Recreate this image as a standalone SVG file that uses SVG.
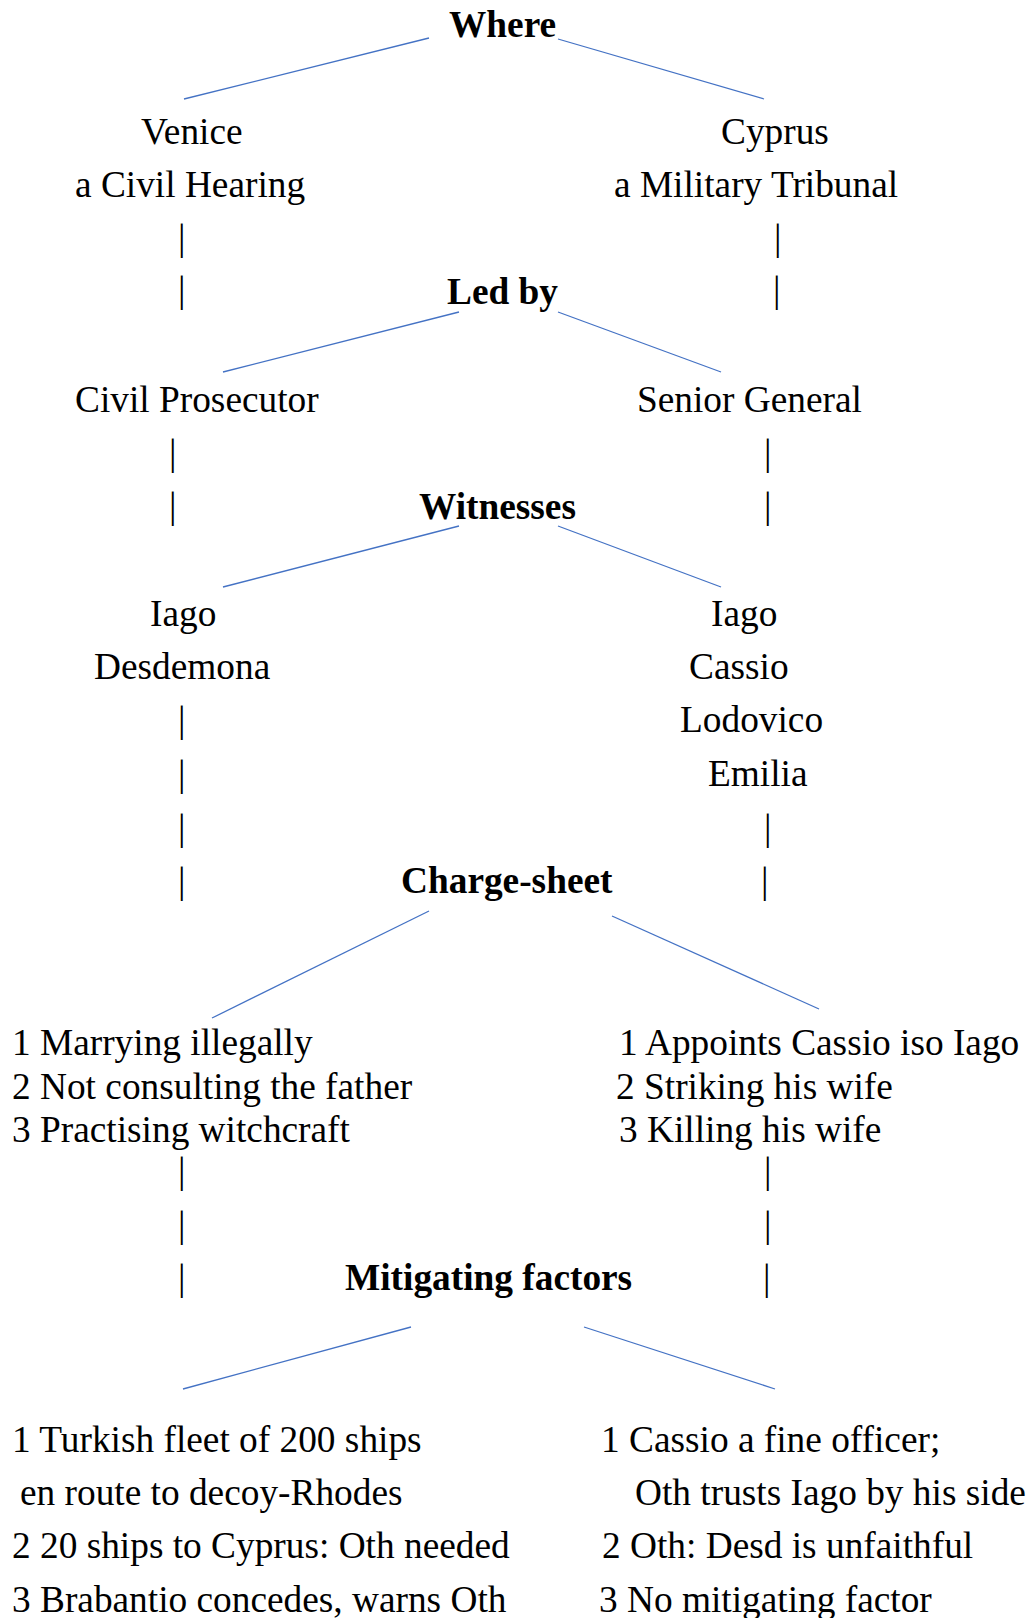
<svg xmlns="http://www.w3.org/2000/svg" width="1031" height="1618" viewBox="0 0 1031 1618">
<style>
text{font-family:"Liberation Serif","Times New Roman",serif;font-size:37.33px;fill:#000}
.b{font-weight:bold}
.c line{stroke:#4472C4;stroke-width:1.3}
</style>
<rect width="1031" height="1618" fill="#fff"/>
<g class="c" id="connectors">
<line x1="429" y1="38" x2="184" y2="99"/>
<line x1="558" y1="39" x2="764" y2="99"/>
<line x1="459" y1="312" x2="223" y2="372"/>
<line x1="558" y1="312" x2="721" y2="372"/>
<line x1="459" y1="526" x2="223" y2="587"/>
<line x1="558" y1="526" x2="721" y2="587"/>
<line x1="429" y1="911" x2="212" y2="1018"/>
<line x1="612" y1="916" x2="819" y2="1009"/>
<line x1="411" y1="1327" x2="183" y2="1389"/>
<line x1="584" y1="1327" x2="775" y2="1389"/>
<g id="bars">
<text x="178" y="250">|</text><text x="178" y="302">|</text>
<text x="774" y="250">|</text><text x="773" y="302">|</text>
<text x="169" y="465">|</text><text x="169" y="518">|</text>
<text x="764" y="465">|</text><text x="764" y="518">|</text>
<text x="178" y="732">|</text><text x="178" y="786">|</text><text x="178" y="840">|</text><text x="178" y="893">|</text>
<text x="764" y="840">|</text><text x="761" y="893">|</text>
<text x="178" y="1183">|</text><text x="178" y="1237">|</text><text x="178" y="1290">|</text>
<text x="764" y="1183">|</text><text x="764" y="1237">|</text><text x="763" y="1290">|</text>
</g>
</g>
<g id="where"><text class="b" x="449" y="37">Where</text></g>
<g id="venice"><text x="141" y="144">Venice</text><text x="75" y="197">a Civil Hearing</text></g>
<g id="cyprus"><text x="721" y="144">Cyprus</text><text x="614" y="197">a Military Tribunal</text></g>
<g id="ledby"><text class="b" x="447" y="304">Led by</text></g>
<g id="civilprosecutor"><text x="75" y="412">Civil Prosecutor</text></g>
<g id="seniorgeneral"><text x="637" y="412">Senior General</text></g>
<g id="witnesses"><text class="b" x="419" y="519">Witnesses</text></g>
<g id="witnesses-left"><text x="150" y="626">Iago</text><text x="94" y="679">Desdemona</text></g>
<g id="witnesses-right"><text x="711" y="626">Iago</text><text x="689" y="679">Cassio</text><text x="680" y="732">Lodovico</text><text x="708" y="786">Emilia</text></g>
<g id="chargesheet"><text class="b" x="401" y="893">Charge-sheet</text></g>
<g id="charges-left"><text x="12" y="1054.5">1 Marrying illegally</text><text x="12" y="1098.5">2 Not consulting the father</text><text x="12" y="1141.5">3 Practising witchcraft</text></g>
<g id="charges-right"><text x="619" y="1054.5">1 Appoints Cassio iso Iago</text><text x="616" y="1098.5">2 Striking his wife</text><text x="619" y="1141.5">3 Killing his wife</text></g>
<g id="mitigating"><text class="b" x="345" y="1290">Mitigating factors</text></g>
<g id="mitigating-left"><text x="12" y="1452">1 Turkish fleet of 200 ships</text><text x="20" y="1505">en route to decoy-Rhodes</text><text x="12" y="1558">2 20 ships to Cyprus: Oth needed</text><text x="12" y="1612">3 Brabantio concedes, warns Oth</text></g>
<g id="mitigating-right"><text x="601" y="1452">1 Cassio a fine officer;</text><text x="635" y="1505">Oth trusts Iago by his side</text><text x="602" y="1558">2 Oth: Desd is unfaithful</text><text x="599" y="1612">3 No mitigating factor</text></g>
</svg>
